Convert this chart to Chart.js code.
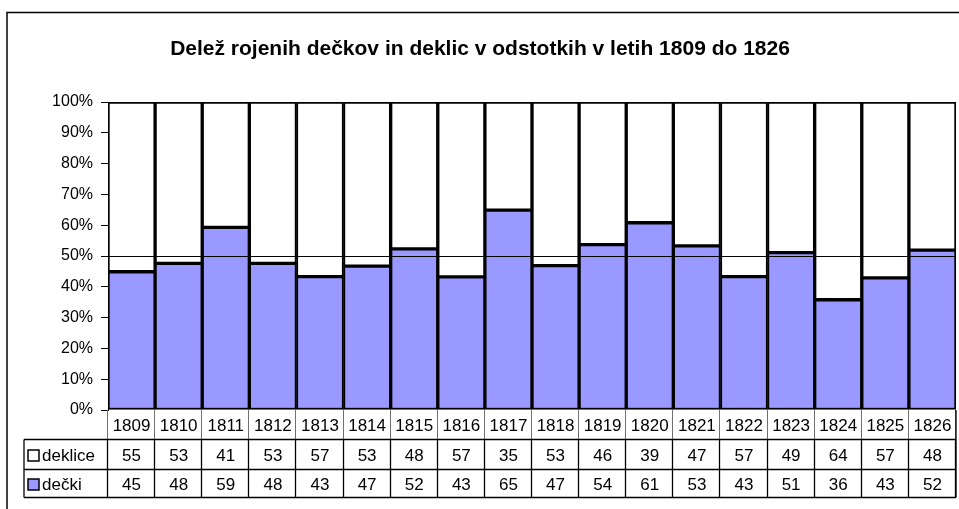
<!DOCTYPE html>
<html>
<head>
<meta charset="utf-8">
<script src="https://cdn.jsdelivr.net/npm/chart.js@4"></script>
<style>
html,body{margin:0;padding:0;background:#fff;}
#wrap{width:959px;height:509px;position:relative;}
</style>
</head>
<body>
<div id="wrap"><canvas id="c" width="959" height="509"></canvas></div>
<script>
const years = ['1809','1810','1811','1812','1813','1814','1815','1816','1817','1818','1819','1820','1821','1822','1823','1824','1825','1826'];
// bar shares (percent)
const deckiShare   = [44.9,47.6,59.3,47.6,43.3,46.7,52.3,43.2,64.9,46.9,53.7,60.8,53.3,43.3,51.1,35.8,42.9,51.9];
const deklicShare  = [55.1,52.4,40.7,52.4,56.7,53.3,47.7,56.8,35.1,53.1,46.3,39.2,46.7,56.7,48.9,64.2,57.1,48.1];
// data table values
const deklice = [55,53,41,53,57,53,48,57,35,53,46,39,47,57,49,64,57,48];
const decki   = [45,48,59,48,43,47,52,43,65,47,54,61,53,43,51,36,43,52];
const yTicks = [0,10,20,30,40,50,60,70,80,90,100];
const titleText = 'Delež rojenih dečkov in deklic v odstotkih v letih 1809 do 1826';

const FONT = '"Liberation Sans", Arial, sans-serif';
Chart.defaults.font.family = FONT;
Chart.defaults.color = '#000';

const extras = {
  id: 'extras',
  afterDatasetsDraw(chart) {
    const ctx = chart.ctx, a = chart.chartArea, y = chart.scales.y;
    ctx.save();
    ctx.strokeStyle = '#000';
    ctx.lineWidth = 1;
    const y50 = Math.round(y.getPixelForValue(50)) + 0.5;
    ctx.beginPath(); ctx.moveTo(a.left, y50); ctx.lineTo(a.right, y50); ctx.stroke();
    ctx.restore();
  },
  afterDraw(chart) {
    const ctx = chart.ctx, a = chart.chartArea, x = chart.scales.x;
    ctx.save();
    // outer border
    ctx.strokeStyle = '#000'; ctx.lineWidth = 1.5;
    ctx.beginPath(); ctx.moveTo(7, 509); ctx.lineTo(7, 12.5); ctx.lineTo(959, 12.5); ctx.stroke();
    // title
    ctx.fillStyle = '#000';
    ctx.font = 'bold 21px ' + FONT;
    ctx.textAlign = 'center'; ctx.textBaseline = 'middle';
    ctx.fillText(titleText, 480, 49);
    // table
    const n = years.length;
    const colW = (a.right - a.left) / n;
    const r0 = a.bottom, r1 = 439.5, r2 = 469.5, r3 = 497.5, labL = 24;
    ctx.font = '17px ' + FONT;
    // year row separators (grey)
    ctx.strokeStyle = '#707070'; ctx.lineWidth = 1;
    for (let i = 0; i <= n; i++) {
      const xx = Math.round(a.left + i * colW) - 0.5;
      ctx.beginPath(); ctx.moveTo(xx, r0); ctx.lineTo(xx, r1); ctx.stroke();
    }
    // data rows grid (black)
    ctx.strokeStyle = '#000'; ctx.lineWidth = 1.3;
    [r1, r2, r3].forEach(r => {
      ctx.beginPath(); ctx.moveTo(labL, r); ctx.lineTo(a.right, r); ctx.stroke();
    });
    ctx.beginPath(); ctx.moveTo(labL, r1); ctx.lineTo(labL, r3); ctx.stroke();
    for (let i = 0; i <= n; i++) {
      const xx = Math.round(a.left + i * colW) - 0.5;
      ctx.beginPath(); ctx.moveTo(xx, r1); ctx.lineTo(xx, r3); ctx.stroke();
    }
    ctx.beginPath(); ctx.moveTo(a.right, r0); ctx.lineTo(a.right, r3); ctx.stroke();
    // texts
    ctx.fillStyle = '#000'; ctx.textAlign = 'center'; ctx.textBaseline = 'middle';
    for (let i = 0; i < n; i++) {
      const cx = x.getPixelForValue(i);
      ctx.fillText(years[i], cx, 426);
      ctx.fillText(String(deklice[i]), cx, 456);
      ctx.fillText(String(decki[i]), cx, 485);
    }
    // legend keys
    ctx.lineWidth = 1.5; ctx.strokeStyle = '#000';
    const keys = [['deklice', '#ffffff', 456], ['dečki', '#9999ff', 485]];
    keys.forEach(([lab, col, cy]) => {
      ctx.fillStyle = col;
      ctx.fillRect(28, cy - 6, 11, 11);
      ctx.strokeRect(28, cy - 6, 11, 11);
      ctx.fillStyle = '#000'; ctx.textAlign = 'left';
      ctx.fillText(lab, 42, cy);
    });
    ctx.restore();
  }
};

new Chart(document.getElementById('c'), {
  type: 'bar',
  data: {
    labels: years,
    datasets: [
      { label: 'dečki', data: deckiShare, backgroundColor: '#9999ff', borderColor: '#000', borderWidth: 2, borderSkipped: false, categoryPercentage: 1, barPercentage: 1 },
      { label: 'deklice', data: deklicShare, backgroundColor: '#ffffff', borderColor: '#000', borderWidth: 2, borderSkipped: false, categoryPercentage: 1, barPercentage: 1 }
    ]
  },
  options: {
    responsive: false,
    animation: false,
    layout: { padding: { left: 8, right: 3, top: 102, bottom: 99 } },
    plugins: { legend: { display: false }, title: { display: false }, tooltip: { enabled: false } },
    scales: {
      x: { stacked: true, display: false },
      y: {
        stacked: true, min: 0, max: 100,
        afterFit(s) { s.width = 100; },
        afterBuildTicks(s) { s.ticks = yTicks.map(v => ({ value: v })); },
        ticks: { callback: v => v + '%', font: { size: 16 }, color: '#000', padding: 8 },
        grid: { drawOnChartArea: false, drawTicks: true, tickLength: 7, color: '#000' },
        border: { display: true, color: '#000', width: 1 }
      }
    }
  },
  plugins: [extras]
});
</script>
</body>
</html>
